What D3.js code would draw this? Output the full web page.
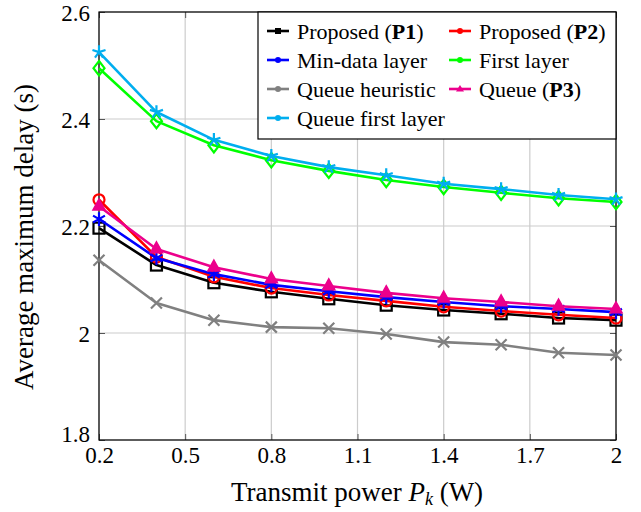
<!DOCTYPE html>
<html>
<head>
<meta charset="utf-8">
<script src="https://cdn.jsdelivr.net/npm/d3@7"></script>
<style>
  body { margin: 0; background: #fff; }
  svg text { font-family: "Liberation Serif", "Times New Roman", Times, "DejaVu Serif", serif; }
</style>
</head>
<body>
<div id="chart"></div>
<script>
// power values (W)
var power = [0.2, 0.4, 0.6, 0.8, 1.0, 1.2, 1.4, 1.6, 1.8, 2.0];
var xTicks = [0.2, 0.5, 0.8, 1.1, 1.4, 1.7, 2];
var yTicks = [1.8, 2, 2.2, 2.4, 2.6];

// series values
var proposedP1 = [2.196, 2.127, 2.094, 2.077, 2.064, 2.052, 2.043, 2.036, 2.028, 2.024];
var proposedP2 = [2.249, 2.142, 2.105, 2.084, 2.071, 2.060, 2.049, 2.041, 2.034, 2.028];
var minData = [2.213, 2.140, 2.110, 2.090, 2.078, 2.067, 2.058, 2.050, 2.045, 2.039];
var firstLayer = [2.495, 2.396, 2.351, 2.323, 2.303, 2.286, 2.273, 2.262, 2.252, 2.245];
var queueHeur = [2.136, 2.056, 2.024, 2.011, 2.009, 1.998, 1.983, 1.978, 1.963, 1.959];
var queueP3 = [2.237, 2.157, 2.123, 2.101, 2.088, 2.075, 2.065, 2.058, 2.050, 2.045];
var queueFirst = [2.525, 2.413, 2.361, 2.331, 2.310, 2.295, 2.279, 2.269, 2.258, 2.250];

var series = [
    { name: 'Proposed (', bold: 'P1', values: proposedP1, color: '#000000', mark: 'square' },
    { name: 'Proposed (', bold: 'P2', values: proposedP2, color: '#ff0000', mark: 'circle' },
    { name: 'Min-data layer', values: minData, color: '#0000ff', mark: 'asterisk' },
    { name: 'First layer', values: firstLayer, color: '#00ff00', mark: 'diamond' },
    { name: 'Queue heuristic', values: queueHeur, color: '#808080', mark: 'cross' },
    { name: 'Queue (', bold: 'P3', values: queueP3, color: '#ec008c', mark: 'triangle' },
    { name: 'Queue first layer', values: queueFirst, color: '#00aeef', mark: 'star' }
];

var serif = '"Liberation Serif", "Times New Roman", Times, "DejaVu Serif", serif';
var width = 641, height = 512;
var margin = { left: 99, right: 25, top: 12, bottom: 72 };

var svg = d3.select('#chart').append('svg')
    .attr('width', width)
    .attr('height', height)
    .attr('font-family', serif);

var x = d3.scaleLinear().domain([0.2, 2]).range([margin.left, width - margin.right]);
var y = d3.scaleLinear().domain([1.8, 2.6]).range([height - margin.bottom, margin.top]);

var x0 = x.range()[0], x1 = x.range()[1], y0 = y.range()[0], y1 = y.range()[1];

// grid
svg.append('g').selectAll('line').data(xTicks).enter().append('line')
    .attr('x1', function(d) { return x(d); }).attr('x2', function(d) { return x(d); })
    .attr('y1', y0).attr('y2', y1)
    .attr('stroke', '#cccccc').attr('stroke-width', 1.2);
svg.append('g').selectAll('line').data(yTicks).enter().append('line')
    .attr('y1', function(d) { return y(d); }).attr('y2', function(d) { return y(d); })
    .attr('x1', x0).attr('x2', x1)
    .attr('stroke', '#cccccc').attr('stroke-width', 1.2);

// axes, ticks pointing inward
var fmt = function(d) { return d === 2 ? '2' : d3.format('.1f')(d); };
var bottomAxis = d3.axisBottom(x).tickValues(xTicks).tickSize(-6).tickPadding(6).tickFormat(fmt);
var topAxis = d3.axisTop(x).tickValues(xTicks).tickSize(-6).tickFormat('');
var leftAxis = d3.axisLeft(y).tickValues(yTicks).tickSize(-6).tickPadding(9).tickFormat(fmt);
var rightAxis = d3.axisRight(y).tickValues(yTicks).tickSize(-6).tickFormat('');

function styleAxis(g) {
    g.attr('font-family', serif);
    g.select('.domain').remove();
    g.selectAll('.tick line').attr('stroke', '#555').attr('stroke-width', 1);
    g.selectAll('.tick text').attr('fill', '#000').style('font-size', '23px');
}

svg.append('g').attr('transform', 'translate(0,' + y0 + ')').call(bottomAxis).call(styleAxis)
    .selectAll('.tick text').attr('dy', '0.75em');
svg.append('g').attr('transform', 'translate(0,' + y1 + ')').call(topAxis).call(styleAxis);
svg.append('g').attr('transform', 'translate(' + x0 + ',0)').call(leftAxis).call(styleAxis)
    .selectAll('.tick text').attr('dy', function(d) { return d === 1.8 ? '0.05em' : '0.35em'; });
svg.append('g').attr('transform', 'translate(' + x1 + ',0)').call(rightAxis).call(styleAxis);

svg.append('rect')
    .attr('x', x0).attr('y', y1).attr('width', x1 - x0).attr('height', y0 - y1)
    .attr('fill', 'none').attr('stroke', '#000').attr('stroke-width', 1.2);

// marker drawing
function drawMark(g, type, color, s) {
    if (type === 'square') {
        g.append('rect').attr('x', -s).attr('y', -s).attr('width', 2 * s).attr('height', 2 * s)
            .attr('fill', 'none').attr('stroke', color).attr('stroke-width', 2.2);
    } else if (type === 'circle') {
        g.append('circle').attr('r', s).attr('fill', 'none').attr('stroke', color).attr('stroke-width', 2.2);
    } else if (type === 'diamond') {
        g.append('path').attr('d', 'M0,' + (-s * 1.3) + 'L' + s + ',0L0,' + (s * 1.3) + 'L' + (-s) + ',0Z')
            .attr('fill', 'none').attr('stroke', color).attr('stroke-width', 2.2);
    } else if (type === 'triangle') {
        g.append('path').attr('d', 'M0,' + (-s * 1.3) + 'L' + (s * 1.1) + ',' + (s * 0.7) + 'L' + (-s * 1.1) + ',' + (s * 0.7) + 'Z')
            .attr('fill', color).attr('stroke', color).attr('stroke-width', 1.5);
    } else if (type === 'cross') {
        g.append('path').attr('d', 'M' + (-s) + ',' + (-s) + 'L' + s + ',' + s + 'M' + (-s) + ',' + s + 'L' + s + ',' + (-s))
            .attr('stroke', color).attr('stroke-width', 2.2);
    } else if (type === 'asterisk' || type === 'star') {
        var d = '', r = s * 1.25;
        if (type === 'asterisk') {
            for (var i = 0; i < 3; i++) {
                var a = Math.PI / 2 + i * Math.PI / 3;
                d += 'M' + (r * Math.cos(a)) + ',' + (-r * Math.sin(a)) + 'L' + (-r * Math.cos(a)) + ',' + (r * Math.sin(a));
            }
        } else {
            for (var j = 0; j < 5; j++) {
                var b = Math.PI / 2 + j * 2 * Math.PI / 5;
                d += 'M0,0L' + (r * Math.cos(b)) + ',' + (-r * Math.sin(b));
            }
        }
        g.append('path').attr('d', d).attr('stroke', color).attr('stroke-width', 2.2).attr('fill', 'none');
    }
}

var line = d3.line()
    .x(function(d, i) { return x(power[i]); })
    .y(function(d) { return y(d); });

var plot = svg.append('g');
series.forEach(function(s) {
    plot.append('path')
        .datum(s.values)
        .attr('d', line)
        .attr('fill', 'none')
        .attr('stroke', s.color)
        .attr('stroke-width', 2.6)
        .attr('stroke-linejoin', 'round');
    s.values.forEach(function(v, i) {
        var g = plot.append('g').attr('transform', 'translate(' + x(power[i]) + ',' + y(v) + ')');
        drawMark(g, s.mark, s.color, 5.5);
    });
});

// legend
var legend = svg.append('g').attr('transform', 'translate(258,12)');
legend.append('rect').attr('width', x1 - 258).attr('height', 127)
    .attr('fill', '#fff').attr('stroke', '#000').attr('stroke-width', 1.2);

series.forEach(function(s, i) {
    var col = i % 2, row = Math.floor(i / 2);
    var lx = col === 0 ? 9 : 191, ly = 19 + row * 29;
    var g = legend.append('g').attr('transform', 'translate(' + lx + ',' + ly + ')');
    g.append('line').attr('x1', 0).attr('x2', 22).attr('y1', 0).attr('y2', 0)
        .attr('stroke', s.color).attr('stroke-width', 2.6);
    var m = g.append('g').attr('transform', 'translate(11,0)');
    if (s.mark === 'square') {
        m.append('rect').attr('x', -3).attr('y', -3).attr('width', 6).attr('height', 6).attr('fill', s.color);
    } else if (s.mark === 'triangle') {
        m.append('path').attr('d', 'M0,-4L4,2.5L-4,2.5Z').attr('fill', s.color);
    } else {
        m.append('circle').attr('r', 3).attr('fill', s.color);
    }
    var t = g.append('text').attr('x', 30).attr('y', 0).attr('dy', '0.35em')
        .style('font-size', '22px').attr('fill', '#000');
    t.append('tspan').text(s.name);
    if (s.bold) {
        t.append('tspan').style('font-weight', 'bold').text(s.bold);
        t.append('tspan').text(')');
    }
});

// axis titles
var xt = svg.append('text')
    .attr('x', 357).attr('y', 501)
    .attr('text-anchor', 'middle')
    .style('font-size', '27px');
xt.append('tspan').text('Transmit power ');
xt.append('tspan').style('font-style', 'italic').text('P');
xt.append('tspan').style('font-style', 'italic').style('font-size', '18px').attr('dy', 4).text('k');
xt.append('tspan').attr('dy', -4).text(' (W)');

svg.append('text')
    .attr('transform', 'translate(33,' + 237 + ') rotate(-90)')
    .attr('text-anchor', 'middle')
    .style('font-size', '27px')
    .text('Average maximum delay (s)');
</script>
</body>
</html>
